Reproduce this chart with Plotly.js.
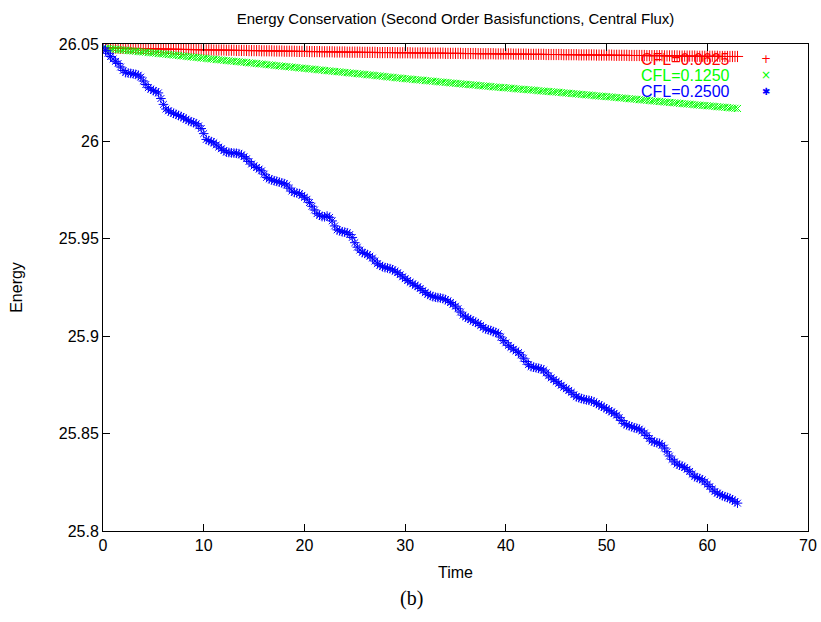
<!DOCTYPE html>
<html>
<head>
<meta charset="utf-8">
<script src="https://cdn.plot.ly/plotly-3.0.1.min.js"></script>
<style>html,body{margin:0;padding:0;background:#fff;}#chart{width:821px;height:622px;}</style>
</head>
<body>
<div id="chart"></div>
<script>
const time = [
0,0.25,0.5,0.75, 1,1.25,1.5,1.75, 2,2.25,2.5,2.75, 3,3.25,3.5,3.75, 4,4.25,4.5,4.75,
5,5.25,5.5,5.75, 6,6.25,6.5,6.75, 7,7.25,7.5,7.75, 8,8.25,8.5,8.75, 9,9.25,9.5,9.75,
10,10.25,10.5,10.75, 11,11.25,11.5,11.75, 12,12.25,12.5,12.75, 13,13.25,13.5,13.75, 14,14.25,14.5,14.75,
15,15.25,15.5,15.75, 16,16.25,16.5,16.75, 17,17.25,17.5,17.75, 18,18.25,18.5,18.75, 19,19.25,19.5,19.75,
20,20.25,20.5,20.75, 21,21.25,21.5,21.75, 22,22.25,22.5,22.75, 23,23.25,23.5,23.75, 24,24.25,24.5,24.75,
25,25.25,25.5,25.75, 26,26.25,26.5,26.75, 27,27.25,27.5,27.75, 28,28.25,28.5,28.75, 29,29.25,29.5,29.75,
30,30.25,30.5,30.75, 31,31.25,31.5,31.75, 32,32.25,32.5,32.75, 33,33.25,33.5,33.75, 34,34.25,34.5,34.75,
35,35.25,35.5,35.75, 36,36.25,36.5,36.75, 37,37.25,37.5,37.75, 38,38.25,38.5,38.75, 39,39.25,39.5,39.75,
40,40.25,40.5,40.75, 41,41.25,41.5,41.75, 42,42.25,42.5,42.75, 43,43.25,43.5,43.75, 44,44.25,44.5,44.75,
45,45.25,45.5,45.75, 46,46.25,46.5,46.75, 47,47.25,47.5,47.75, 48,48.25,48.5,48.75, 49,49.25,49.5,49.75,
50,50.25,50.5,50.75, 51,51.25,51.5,51.75, 52,52.25,52.5,52.75, 53,53.25,53.5,53.75, 54,54.25,54.5,54.75,
55,55.25,55.5,55.75, 56,56.25,56.5,56.75, 57,57.25,57.5,57.75, 58,58.25,58.5,58.75, 59,59.25,59.5,59.75,
60,60.25,60.5,60.75, 61,61.25,61.5,61.75, 62,62.25,62.5,62.75, 63
];

const energyCFL0625 = [
26.0480,26.0480,26.0480,26.0479, 26.0479,26.0479,26.0479,26.0478, 26.0478,26.0478,26.0478,26.0477, 26.0477,26.0477,26.0477,26.0476, 26.0476,26.0476,26.0476,26.0475,
26.0475,26.0475,26.0475,26.0474, 26.0474,26.0474,26.0474,26.0473, 26.0473,26.0473,26.0473,26.0472, 26.0472,26.0472,26.0472,26.0471, 26.0471,26.0471,26.0471,26.0470,
26.0470,26.0470,26.0470,26.0470, 26.0469,26.0469,26.0469,26.0469, 26.0469,26.0468,26.0468,26.0468, 26.0468,26.0467,26.0467,26.0467, 26.0467,26.0467,26.0466,26.0466,
26.0466,26.0466,26.0466,26.0465, 26.0465,26.0465,26.0465,26.0465, 26.0464,26.0464,26.0464,26.0464, 26.0463,26.0463,26.0463,26.0463, 26.0463,26.0462,26.0462,26.0462,
26.0462,26.0462,26.0461,26.0461, 26.0461,26.0461,26.0461,26.0460, 26.0460,26.0460,26.0460,26.0460, 26.0459,26.0459,26.0459,26.0459, 26.0459,26.0458,26.0458,26.0458,
26.0458,26.0458,26.0458,26.0457, 26.0457,26.0457,26.0457,26.0457, 26.0457,26.0456,26.0456,26.0456, 26.0456,26.0456,26.0456,26.0456, 26.0455,26.0455,26.0455,26.0455,
26.0455,26.0455,26.0455,26.0454, 26.0454,26.0454,26.0454,26.0454, 26.0454,26.0453,26.0453,26.0453, 26.0453,26.0453,26.0453,26.0453, 26.0452,26.0452,26.0452,26.0452,
26.0452,26.0452,26.0452,26.0451, 26.0451,26.0451,26.0451,26.0451, 26.0451,26.0450,26.0450,26.0450, 26.0450,26.0450,26.0450,26.0450, 26.0449,26.0449,26.0449,26.0449,
26.0449,26.0449,26.0449,26.0448, 26.0448,26.0448,26.0448,26.0448, 26.0448,26.0447,26.0447,26.0447, 26.0447,26.0447,26.0447,26.0447, 26.0446,26.0446,26.0446,26.0446,
26.0446,26.0446,26.0446,26.0445, 26.0445,26.0445,26.0445,26.0445, 26.0445,26.0444,26.0444,26.0444, 26.0444,26.0444,26.0444,26.0444, 26.0443,26.0443,26.0443,26.0443,
26.0443,26.0443,26.0443,26.0442, 26.0442,26.0442,26.0442,26.0442, 26.0442,26.0441,26.0441,26.0441, 26.0441,26.0441,26.0441,26.0441, 26.0440,26.0440,26.0440,26.0440,
26.0440,26.0440,26.0440,26.0439, 26.0439,26.0439,26.0439,26.0439, 26.0439,26.0438,26.0438,26.0438, 26.0438,26.0438,26.0438,26.0438, 26.0437,26.0437,26.0437,26.0437,
26.0437,26.0437,26.0437,26.0437, 26.0437,26.0436,26.0436,26.0436, 26.0436,26.0436,26.0436,26.0436, 26.0436
];

const energyCFL1250 = [
26.0479,26.0478,26.0477,26.0475, 26.0474,26.0473,26.0471,26.0470, 26.0469,26.0468,26.0466,26.0465, 26.0464,26.0463,26.0461,26.0460, 26.0459,26.0458,26.0456,26.0455,
26.0454,26.0453,26.0451,26.0450, 26.0449,26.0447,26.0446,26.0445, 26.0443,26.0442,26.0441,26.0439, 26.0438,26.0436,26.0435,26.0434, 26.0432,26.0431,26.0430,26.0428,
26.0427,26.0426,26.0424,26.0423, 26.0422,26.0420,26.0419,26.0418, 26.0416,26.0415,26.0414,26.0412, 26.0411,26.0410,26.0409,26.0407, 26.0406,26.0405,26.0403,26.0402,
26.0401,26.0400,26.0398,26.0397, 26.0396,26.0394,26.0393,26.0392, 26.0390,26.0389,26.0388,26.0386, 26.0385,26.0384,26.0383,26.0381, 26.0380,26.0379,26.0377,26.0376,
26.0375,26.0374,26.0372,26.0371, 26.0370,26.0368,26.0367,26.0366, 26.0364,26.0363,26.0362,26.0360, 26.0359,26.0358,26.0357,26.0355, 26.0354,26.0353,26.0351,26.0350,
26.0349,26.0348,26.0346,26.0345, 26.0344,26.0342,26.0341,26.0340, 26.0338,26.0337,26.0336,26.0334, 26.0333,26.0331,26.0330,26.0329, 26.0327,26.0326,26.0325,26.0323,
26.0322,26.0321,26.0320,26.0318, 26.0317,26.0316,26.0315,26.0314, 26.0312,26.0311,26.0310,26.0309, 26.0308,26.0306,26.0305,26.0304, 26.0303,26.0302,26.0300,26.0299,
26.0298,26.0297,26.0296,26.0294, 26.0293,26.0292,26.0291,26.0290, 26.0289,26.0287,26.0286,26.0285, 26.0284,26.0283,26.0282,26.0280, 26.0279,26.0278,26.0277,26.0276,
26.0275,26.0274,26.0273,26.0272, 26.0270,26.0269,26.0268,26.0267, 26.0266,26.0265,26.0264,26.0263, 26.0262,26.0260,26.0259,26.0258, 26.0257,26.0256,26.0255,26.0254,
26.0253,26.0252,26.0251,26.0249, 26.0248,26.0247,26.0246,26.0245, 26.0244,26.0242,26.0241,26.0240, 26.0239,26.0238,26.0237,26.0235, 26.0234,26.0233,26.0232,26.0231,
26.0230,26.0229,26.0228,26.0226, 26.0225,26.0224,26.0223,26.0222, 26.0220,26.0219,26.0218,26.0217, 26.0216,26.0214,26.0213,26.0212, 26.0211,26.0210,26.0208,26.0207,
26.0206,26.0205,26.0204,26.0202, 26.0201,26.0200,26.0199,26.0198, 26.0197,26.0195,26.0194,26.0193, 26.0192,26.0191,26.0190,26.0188, 26.0187,26.0186,26.0185,26.0184,
26.0183,26.0182,26.0181,26.0179, 26.0178,26.0177,26.0176,26.0175, 26.0174,26.0172,26.0171,26.0170, 26.0169
];

const energyCFL2500 = [
26.0480,26.0466,26.0452,26.0436, 26.0423,26.0411,26.0400,26.0382, 26.0364,26.0353,26.0351,26.0349, 26.0347,26.0344,26.0340,26.0330, 26.0310,26.0292,26.0276,26.0268,
26.0261,26.0255,26.0249,26.0220, 26.0190,26.0166,26.0157,26.0150, 26.0144,26.0139,26.0133,26.0128, 26.0121,26.0114,26.0106,26.0101, 26.0096,26.0091,26.0080,26.0066,
26.0040,26.0010,26.0004,25.9999, 25.9993,25.9982,25.9971,25.9962, 25.9953,25.9945,25.9943,25.9941, 25.9940,25.9939,25.9937,25.9931, 25.9922,25.9911,25.9897,25.9884,
25.9874,25.9866,25.9858,25.9849, 25.9832,25.9815,25.9808,25.9802, 25.9798,25.9795,25.9791,25.9787, 25.9783,25.9776,25.9760,25.9745, 25.9738,25.9735,25.9732,25.9723,
25.9713,25.9703,25.9686,25.9667, 25.9648,25.9629,25.9621,25.9614, 25.9613,25.9617,25.9610,25.9592, 25.9566,25.9546,25.9541,25.9536, 25.9534,25.9531,25.9522,25.9507,
25.9480,25.9457,25.9442,25.9430, 25.9425,25.9419,25.9411,25.9401, 25.9386,25.9372,25.9364,25.9357, 25.9352,25.9350,25.9347,25.9341, 25.9334,25.9326,25.9316,25.9305,
25.9295,25.9286,25.9277,25.9269, 25.9261,25.9254,25.9245,25.9234, 25.9224,25.9215,25.9209,25.9203, 25.9200,25.9198,25.9196,25.9193, 25.9188,25.9181,25.9173,25.9164,
25.9154,25.9141,25.9124,25.9108, 25.9099,25.9092,25.9085,25.9078, 25.9071,25.9065,25.9055,25.9045, 25.9037,25.9033,25.9029,25.9024, 25.9019,25.9013,25.8996,25.8978,
25.8966,25.8953,25.8943,25.8933, 25.8925,25.8916,25.8904,25.8887, 25.8870,25.8854,25.8844,25.8841, 25.8838,25.8835,25.8832,25.8826, 25.8812,25.8797,25.8786,25.8777,
25.8768,25.8758,25.8748,25.8738, 25.8730,25.8722,25.8712,25.8700, 25.8689,25.8684,25.8680,25.8676, 25.8673,25.8671,25.8668,25.8662, 25.8655,25.8648,25.8641,25.8634,
25.8627,25.8619,25.8611,25.8604, 25.8595,25.8582,25.8567,25.8552, 25.8545,25.8540,25.8535,25.8530, 25.8527,25.8523,25.8514,25.8503, 25.8490,25.8475,25.8462,25.8457,
25.8453,25.8450,25.8440,25.8426, 25.8407,25.8385,25.8368,25.8355, 25.8343,25.8338,25.8333,25.8326, 25.8317,25.8306,25.8292,25.8279, 25.8274,25.8269,25.8263,25.8252,
25.8240,25.8228,25.8215,25.8202, 25.8194,25.8188,25.8181,25.8176, 25.8172,25.8167,25.8160,25.8151, 25.8143
];

const seriesNames = ['CFL=0.0625', 'CFL=0.1250', 'CFL=0.2500'];
const xTickVals = [0, 10, 20, 30, 40, 50, 60, 70];
const yTickVals = [25.8, 25.85, 25.9, 25.95, 26, 26.05];
const yTickText = ['25.8', '25.85', '25.9', '25.95', '26', '26.05'];

const FONT = 'Liberation Sans, Arial, Helvetica, sans-serif';
const colors = ['#ff0000', '#00ff00', '#0000ff'];
const symbols = ['cross-thin-open', 'x-thin-open', 'asterisk-open'];
const sizes = [8, 7, 8];
const ys = [energyCFL0625, energyCFL1250, energyCFL2500];

const traces = ys.map((y, i) => ({
  x: time, y: y, name: seriesNames[i], type: 'scatter', mode: 'markers',
  marker: {symbol: symbols[i], size: sizes[i], color: colors[i], line: {color: colors[i], width: 1}},
  showlegend: false, hoverinfo: 'skip'
}));

const legendY = [0.9686, 0.9363, 0.9021];
const legendGlyph = ['+', '×', '✱'];
const annotations = [];
seriesNames.forEach((n, i) => {
  annotations.push({xref: 'paper', yref: 'paper', x: 0.8918, y: legendY[i], xanchor: 'right', yanchor: 'middle',
    text: n, showarrow: false, font: {family: FONT, size: 16, color: colors[i]}});
  annotations.push({xref: 'paper', yref: 'paper', x: 0.9404, y: legendY[i], xanchor: 'center', yanchor: 'middle',
    text: legendGlyph[i], showarrow: false, font: {family: 'DejaVu Sans, ' + FONT, size: i === 2 ? 10 : 12, color: colors[i]}});
});
annotations.push({xref: 'paper', yref: 'paper', x: 0.438, y: -0.1376, xanchor: 'center', yanchor: 'middle',
  text: '(b)', showarrow: false, font: {family: 'Liberation Serif, DejaVu Serif, serif', size: 20, color: '#000'}});

const axisCommon = {
  showline: true, linecolor: '#000', linewidth: 1, mirror: 'ticks', ticks: 'inside', ticklen: 7,
  tickcolor: '#000', tickwidth: 1, showgrid: false, zeroline: false,
  tickfont: {family: FONT, size: 16, color: '#000'}
};

const layout = {
  width: 821, height: 622,
  margin: {l: 103, r: 13, t: 44, b: 91},
  paper_bgcolor: '#fff', plot_bgcolor: '#fff',
  title: {text: 'Energy Conservation (Second Order Basisfunctions, Central Flux)', font: {family: FONT, size: 15, color: '#000'},
    x: 0.5, xref: 'paper', xanchor: 'center', y: 0.9695, yref: 'container', yanchor: 'middle'},
  xaxis: Object.assign({}, axisCommon, {range: [0, 70], tickvals: xTickVals,
    title: {text: 'Time', font: {family: FONT, size: 16, color: '#000'}, standoff: 13}}),
  yaxis: Object.assign({}, axisCommon, {range: [25.8, 26.05], tickvals: yTickVals, ticktext: yTickText,
    title: {text: 'Energy', font: {family: FONT, size: 16, color: '#000'}, standoff: 32}}),
  annotations: annotations
};

Plotly.newPlot('chart', traces, layout, {displayModeBar: false, staticPlot: true});
</script>
</body>
</html>
